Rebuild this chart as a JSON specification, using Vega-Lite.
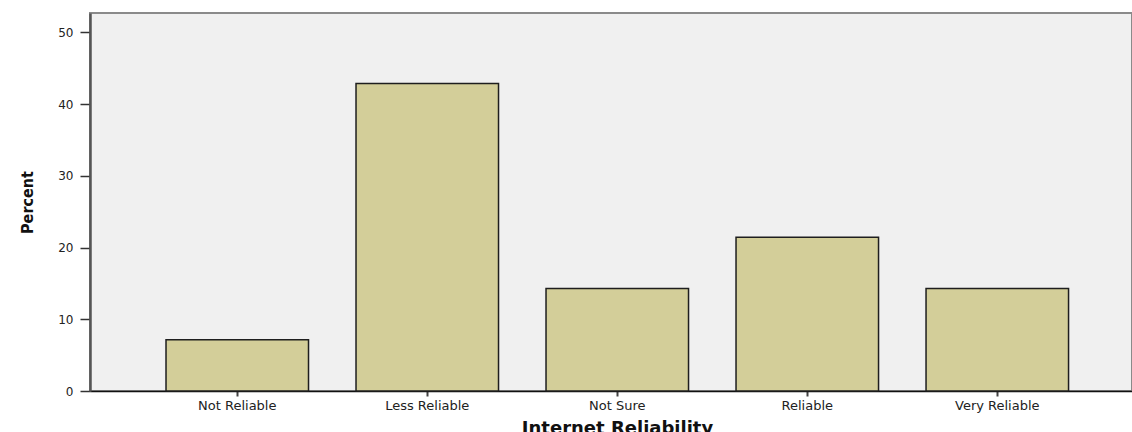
{
  "$schema": "https://vega.github.io/schema/vega-lite/v6.json",
  "autosize": "none",
  "width": 1042,
  "height": 378,
  "padding": {"left": 90, "top": 13, "right": 0, "bottom": 41},
  "background": "white",
  "config": {
    "view": {"fill": "#f0f0f0", "stroke": "#8a8a8a", "strokeWidth": 2},
    "axis": {"grid": false, "labelFont": "DejaVu Sans", "labelColor": "#222"}
  },
  "data": {
    "values": [
      {"reliability": "Not Reliable", "percent": 7.14},
      {"reliability": "Less Reliable", "percent": 42.86},
      {"reliability": "Not Sure", "percent": 14.29},
      {"reliability": "Reliable", "percent": 21.43},
      {"reliability": "Very Reliable", "percent": 14.29}
    ]
  },
  "mark": {"type": "bar", "fill": "#d3ce99", "stroke": "#1e1e1e", "strokeWidth": 1.5},
  "encoding": {
    "x": {
      "field": "reliability",
      "type": "nominal",
      "sort": null,
      "scale": {"paddingInner": 0.25, "paddingOuter": 0.367, "align": 0.545},
      "axis": {
        "title": "Internet Reliability",
        "titleFont": "DejaVu Sans",
        "titleFontWeight": "bold",
        "titleFontSize": 18,
        "titleColor": "#111",
        "titleX": 527,
        "titleY": 42,
        "titleBaseline": "alphabetic",
        "labelAngle": 0,
        "labelFontSize": 13,
        "labelPadding": 3,
        "tickSize": 5,
        "tickWidth": 2,
        "tickColor": "#444",
        "domainColor": "#111",
        "domainWidth": 1.5
      }
    },
    "y": {
      "field": "percent",
      "type": "quantitative",
      "scale": {"domain": [0, 52.7], "nice": false},
      "axis": {
        "title": "Percent",
        "titleFont": "DejaVu Sans Condensed",
        "titleFontWeight": "bold",
        "titleFontSize": 16,
        "titleColor": "#111",
        "titleAngle": 270,
        "titleAlign": "center",
        "titleBaseline": "alphabetic",
        "titleX": -58,
        "titleY": 189,
        "values": [0, 10, 20, 30, 40, 50],
        "labelFontSize": 12,
        "labelPadding": 7,
        "tickSize": 10,
        "tickWidth": 1.5,
        "tickColor": "#333",
        "domainColor": "#555",
        "domainWidth": 2.5
      }
    }
  }
}
